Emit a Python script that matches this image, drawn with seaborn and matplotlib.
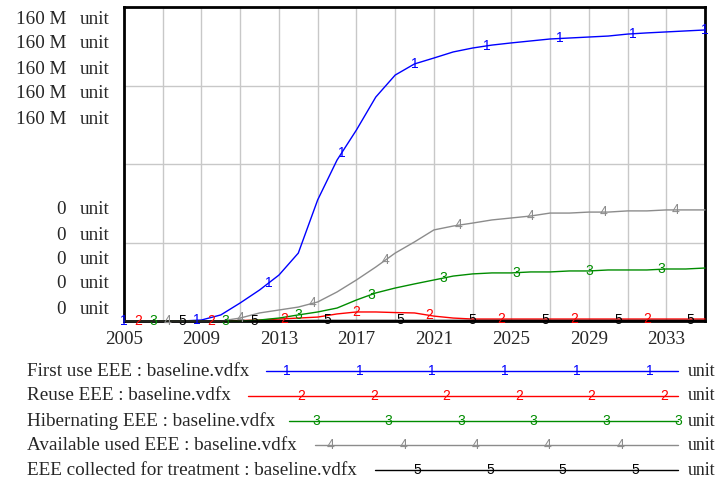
import numpy as np
import pandas as pd
import matplotlib
matplotlib.use("Agg")
import matplotlib.pyplot as plt
import seaborn as sns
from matplotlib.lines import Line2D

years = list(range(2005, 2036))

first_use = [0, 0, 0, 0, 0.5, 3.1, 9.2, 15.8, 23.4, 34.6, 61.7, 82.0, 97.3, 114.1,
             125.3, 131.0, 134.0, 137.1, 139.1, 140.6, 141.7, 142.7, 143.7, 144.2,
             144.7, 145.2, 146.2, 146.8, 147.3, 147.8, 148.3]
reuse = [0, 0, 0, 0, 0, 0, 0.25, 0.5, 1.0, 1.5, 2.0, 3.6, 4.6, 4.6, 4.3, 4.1,
         2.5, 1.5, 1.0, 1.0, 1.0, 1.0, 1.0, 1.0, 1.0, 1.0, 1.0, 1.0, 1.0, 1.0, 1.0]
hibernating = [0, 0, 0, 0, 0, 0, 0, 0.5, 1.5, 3.1, 4.6, 6.6, 10.7, 14.3, 16.8, 18.9,
               20.9, 22.9, 24.0, 24.5, 24.5, 25.0, 25.0, 25.5, 25.5, 26.0, 26.0,
               26.0, 26.5, 26.5, 27.0]
available = [0, 0, 0, 0, 0, 0, 1.5, 4.1, 5.6, 7.1, 9.7, 14.8, 20.9, 27.5, 34.6,
             40.3, 46.4, 48.4, 49.9, 51.5, 52.5, 53.5, 55.0, 55.0, 55.5, 55.5,
             56.1, 56.1, 56.6, 56.6, 56.6]
collected = [0, 0, 0, 0, 0, 0, 0, 0.1, 0.2, 0.2, 0.3, 0.3, 0.3, 0.3, 0.3, 0.3,
             0.3, 0.3, 0.3, 0.3, 0.3, 0.3, 0.3, 0.3, 0.3, 0.3, 0.3, 0.3, 0.3, 0.3, 0.3]

series_names = ["First use EEE : baseline.vdfx", "Reuse EEE : baseline.vdfx",
                "Hibernating EEE : baseline.vdfx", "Available used EEE : baseline.vdfx",
                "EEE collected for treatment : baseline.vdfx"]
series_vals = [first_use, reuse, hibernating, available, collected]
colors = ["#0000ff", "#ff0000", "#008c00", "#8c8c8c", "#000000"]
ytop_labels = ["160 M", "160 M", "160 M", "160 M", "160 M"]
ybot_labels = ["0", "0", "0", "0", "0"]
unit = "unit"

rows = []
for name, vals in zip(series_names, series_vals):
    for y, v in zip(years, vals):
        rows.append({"year": y, "value": v * 1e6, "series": name})
df = pd.DataFrame(rows)

sns.set_style("white")
plt.rcParams["font.family"] = ["Liberation Serif", "DejaVu Serif"]
FS = 13.8

W, H = 718, 486
fig = plt.figure(figsize=(W / 100, H / 100), dpi=100)
ax = fig.add_axes([124 / W, 1 - 321 / H, (705 - 124) / W, (321 - 7) / H])

sns.lineplot(data=df, x="year", y="value", hue="series", hue_order=series_names,
             palette=dict(zip(series_names, colors)), linewidth=1.0, ax=ax,
             legend=False, clip_on=False, zorder=5)

ax.set_xlim(2005, 2035)
ax.set_ylim(0, 160e6)
ax.set_xticks(range(2005, 2036, 2))
ax.set_xticklabels([str(y) if (y - 2005) % 4 == 0 else "" for y in range(2005, 2036, 2)],
                   fontsize=FS)
ax.set_yticks([0, 40e6, 80e6, 120e6, 160e6])
ax.set_yticklabels([])
ax.tick_params(length=0, pad=7)
ax.grid(True, color="#c8c8c8", linewidth=1.0)
ax.set_xlabel("")
ax.set_ylabel("")
for s in ax.spines.values():
    s.set_linewidth(2.0)
    s.set_color("black")
    s.set_zorder(4)

# numbered markers along lines
step = 3.75
for i, (vals, c) in enumerate(zip(series_vals, colors)):
    t = 2005 + 0.75 * i
    while t <= 2035.01:
        yv = np.interp(t, years, vals) * 1e6
        ax.text(t, yv, str(i + 1), color=c, fontsize=10, ha="center", va="center",
                family=["Liberation Sans", "DejaVu Sans"], zorder=6, clip_on=False)
        t += step

# stacked y labels
top_ys = [19, 44, 69, 94, 119]
bot_ys = [210, 235, 259, 284, 309]
for yy, lab in zip(top_ys, ytop_labels):
    fig.text(66 / W, 1 - yy / H, lab, ha="right", va="center", fontsize=FS)
    fig.text(80 / W, 1 - yy / H, unit, ha="left", va="center", fontsize=FS)
for yy, lab in zip(bot_ys, ybot_labels):
    fig.text(66 / W, 1 - yy / H, lab, ha="right", va="center", fontsize=FS)
    fig.text(80 / W, 1 - yy / H, unit, ha="left", va="center", fontsize=FS)

# legend rows
row_ys = [371, 396, 421, 445, 470]
line_starts = [266, 248, 289, 315, 375]
line_end = 678
for i, (name, c, yy, x0) in enumerate(zip(series_names, colors, row_ys, line_starts)):
    fy = 1 - yy / H
    fig.text(27 / W, fy, name, ha="left", va="center", fontsize=FS)
    fig.add_artist(Line2D([x0 / W, line_end / W], [fy, fy], color=c, linewidth=1.0,
                          transform=fig.transFigure))
    mx = 287 + 14.5 * i
    while mx <= line_end + 1:
        if mx >= x0:
            fig.text(mx / W, fy, str(i + 1), color=c, fontsize=10, ha="center",
                     va="center", family=["Liberation Sans", "DejaVu Sans"])
        mx += 72.5
    fig.text(688 / W, fy, unit, ha="left", va="center", fontsize=12.8)

fig.savefig("out.png", dpi=100)
